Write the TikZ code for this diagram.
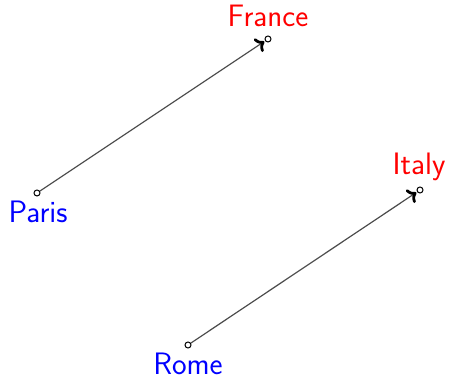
\documentclass[tikz,border=0pt]{standalone}
\usetikzlibrary{arrows.meta}
\begin{document}
\begin{tikzpicture}[x=1pt,y=-1pt,
  pt/.style={circle,draw=black,fill=white,inner sep=0pt,minimum size=6pt,line width=1pt},
  lbl/.style={font=\sffamily\fontsize{31}{34}\selectfont,inner sep=0pt,anchor=base},
  conn/.style={draw=black!70,line width=1.2pt,-{To[black,length=8pt,width=16pt,line width=2.8pt]},shorten >=1pt}]
\useasboundingbox (0,0) rectangle (450,379);
\node[pt] (paris) at (37,193) {};
\node[pt] (france) at (268,39) {};
\node[pt] (italy) at (420,190) {};
\node[pt] (rome) at (188,345) {};
\node[lbl,text=blue] (lparis) at (38,223) {Paris};
\node[lbl,text=red] (lfrance) at (268,27) {France};
\node[lbl,text=red] (litaly) at (419,175) {Italy};
\node[lbl,text=blue] (lrome) at (188,374) {Rome};
\draw[conn] (paris) -- (france);
\draw[conn] (rome) -- (italy);
\end{tikzpicture}
\end{document}
